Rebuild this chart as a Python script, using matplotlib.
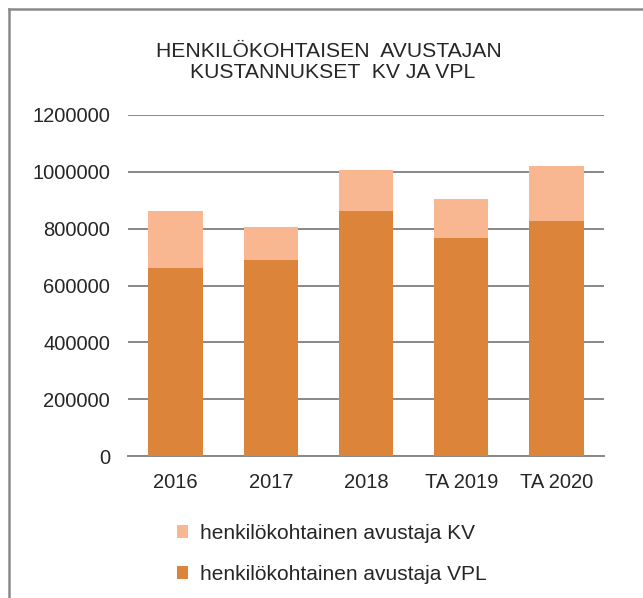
import matplotlib.pyplot as plt
from matplotlib.lines import Line2D

vuodet = ['2016', '2017', '2018', 'TA 2019', 'TA 2020']
vpl = [663000, 690000, 863000, 766000, 827000]
kv = [200000, 117000, 145000, 138000, 195000]
yticks = [0, 200000, 400000, 600000, 800000, 1000000, 1200000]

plt.rcParams['font.family'] = ['Liberation Sans', 'DejaVu Sans']
txt = '#262626'
harmaa = '#888888'

fig = plt.figure(figsize=(6.43, 5.98), dpi=100)
ax = fig.add_axes([128/643., 1-456/598., 476/643., 341/598.])

x = range(len(vuodet))
b1 = ax.bar(x, vpl, width=0.57, color='#dc843a', zorder=3)
b2 = ax.bar(x, kv, width=0.57, bottom=vpl, color='#f8b691', zorder=3)

ax.set_xlim(-0.5, len(vuodet)-0.5)
ax.set_ylim(0, 1200000)
ax.set_yticks(yticks)
ax.set_yticklabels([str(v) for v in yticks])
ax.set_xticks(list(x))
ax.set_xticklabels(vuodet)
ax.yaxis.grid(True, color=harmaa, linewidth=1.4, zorder=0)
for s in ['top', 'right', 'left']:
	ax.spines[s].set_visible(False)
ax.spines['bottom'].set_color(harmaa)
ax.spines['bottom'].set_linewidth(1.4)
ax.tick_params(axis='both', length=0, labelsize=14.5, colors=txt)
ax.tick_params(axis='y', pad=13)
ax.tick_params(axis='x', pad=12)

# otsikko kahdella rivilla
fig.text(329/643., 1-57/598., 'HENKILÖKOHTAISEN  AVUSTAJAN', ha='center', va='baseline',
	fontsize=15.2, color=txt)
fig.text(333/643., 1-78.5/598., 'KUSTANNUKSET  KV JA VPL', ha='center', va='baseline',
	fontsize=15.2, color=txt)

leg = fig.legend([b2, b1], ['henkilökohtainen avustaja KV', 'henkilökohtainen avustaja VPL'],
	loc='upper left', bbox_to_anchor=(177/643., 1-524/598.), frameon=False,
	fontsize=15, borderpad=0, borderaxespad=0, handlelength=0.55, handleheight=0.55,
	handletextpad=0.55, labelspacing=1.05)
for t in leg.get_texts():
	t.set_color(txt)

# kehys vasemmalla ja ylhaalla
fig.add_artist(Line2D([8.5/643., 8.5/643.], [0, 1-8.5/598.], color='#898989', linewidth=1.8))
fig.add_artist(Line2D([8.5/643., 1], [1-8.5/598., 1-8.5/598.], color='#898989', linewidth=1.8))

fig.savefig('out.png', dpi=100)
